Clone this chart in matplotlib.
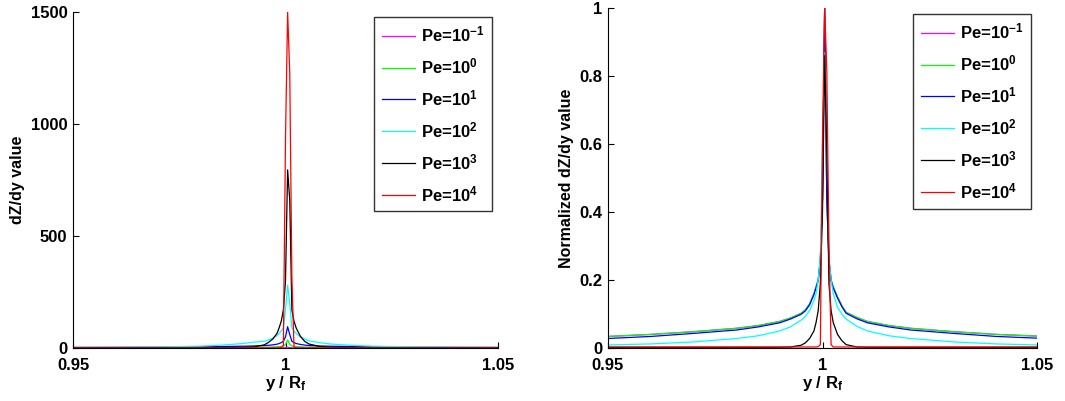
import matplotlib
matplotlib.use("Agg")
import matplotlib.pyplot as plt
from matplotlib.lines import Line2D

plt.rcParams['font.family'] = ['Liberation Sans', 'DejaVu Sans']
plt.rcParams['font.weight'] = 'bold'
plt.rcParams['mathtext.default'] = 'regular'

# Sample positions (y / R_f)
x_pts = [0.950, 0.960, 0.970, 0.980, 0.985, 0.990, 0.9925, 0.995, 0.996, 0.997,
         0.998, 0.9985, 0.999, 0.9995, 1.0000, 1.0005, 1.0010, 1.0015, 1.0020, 1.0025,
         1.0035, 1.0045, 1.0055, 1.0080, 1.0105, 1.0155, 1.0205, 1.0305, 1.0405, 1.0500]

labels = ['Pe=10$^{-1}$', 'Pe=10$^{0}$', 'Pe=10$^{1}$', 'Pe=10$^{2}$', 'Pe=10$^{3}$', 'Pe=10$^{4}$']
colors = ['#ff00ff', '#00ff00', '#0000ff', '#00ffff', '#000000', '#ff0000']

# Left panel: dZ/dy values
dz_pe_m1 = [0.13, 0.16, 0.19, 0.22, 0.27, 0.31, 0.36, 0.41, 0.45, 0.51, 0.63, 0.72, 0.80, 1.0, 1.8,
            4.0, 1.8, 1.0, 0.80, 0.72, 0.60, 0.50, 0.42, 0.36, 0.31, 0.27, 0.22, 0.19, 0.16, 0.13]
dz_pe_0 = [1.2, 1.4, 1.7, 2.0, 2.4, 2.8, 3.2, 3.7, 4.0, 4.6, 5.7, 6.5, 7.2, 9.4, 16,
           36, 16, 9.4, 7.2, 6.5, 5.4, 4.5, 3.8, 3.2, 2.8, 2.4, 2.0, 1.7, 1.4, 1.2]
dz_pe_1 = [2.8, 3.2, 4.0, 5.0, 6.5, 8.0, 9.0, 11, 12, 14, 17, 20, 24, 30, 50,
           95, 60, 30, 24, 20, 16, 13, 11, 9.0, 8.0, 6.5, 5.0, 4.0, 3.2, 2.8]
dz_pe_2 = [2.5, 3.5, 5.0, 8.0, 13, 20, 26, 30, 36, 44, 55, 65, 75, 90, 170,
           281, 200, 90, 75, 65, 50, 40, 32, 24, 18, 12, 8.0, 5.0, 3.5, 2.5]
dz_pe_3 = [1.5, 1.5, 1.5, 2.0, 2.5, 3.0, 5.0, 14, 25, 40, 65, 90, 120, 170, 300,
           795, 660, 170, 120, 90, 52, 30, 18, 7.0, 3.0, 2.5, 2.0, 1.5, 1.5, 1.5]
dz_pe_4 = [0.5, 0.5, 0.5, 0.5, 0.5, 0.5, 0.5, 0.5, 0.5, 0.5, 0.5, 0.5, 3.0, 10, 936,
           1500, 1227, 317, 5.0, 0.5, 0.5, 0.5, 0.5, 0.5, 0.5, 0.5, 0.5, 0.5, 0.5, 0.5]

# Right panel: normalized dZ/dy values
nz_pe_m1 = [0.034, 0.040, 0.048, 0.058, 0.066, 0.078, 0.088, 0.102, 0.112, 0.130, 0.160, 0.180, 0.200, 0.260, 0.440,
            1.0, 0.440, 0.260, 0.200, 0.180, 0.150, 0.125, 0.105, 0.090, 0.078, 0.066, 0.058, 0.048, 0.040, 0.035]
nz_pe_0 = [0.034, 0.040, 0.048, 0.058, 0.066, 0.078, 0.088, 0.102, 0.112, 0.130, 0.160, 0.180, 0.200, 0.260, 0.440,
           1.0, 0.440, 0.260, 0.200, 0.180, 0.150, 0.125, 0.105, 0.090, 0.078, 0.066, 0.058, 0.048, 0.040, 0.035]
nz_pe_1 = [0.028, 0.034, 0.043, 0.053, 0.062, 0.074, 0.085, 0.099, 0.109, 0.127, 0.157, 0.177, 0.198, 0.258, 0.440,
           1.0, 0.440, 0.258, 0.198, 0.177, 0.147, 0.122, 0.102, 0.086, 0.074, 0.062, 0.053, 0.043, 0.034, 0.029]
nz_pe_2 = [0.009, 0.012, 0.018, 0.028, 0.036, 0.050, 0.062, 0.082, 0.093, 0.110, 0.140, 0.160, 0.200, 0.270, 0.600,
           0.870, 0.600, 0.270, 0.200, 0.160, 0.120, 0.100, 0.085, 0.064, 0.050, 0.036, 0.028, 0.018, 0.012, 0.009]
nz_pe_3 = [0.002, 0.002, 0.002, 0.002, 0.002, 0.002, 0.003, 0.008, 0.015, 0.028, 0.050, 0.075, 0.110, 0.190, 0.400,
           0.860, 0.580, 0.190, 0.110, 0.075, 0.040, 0.022, 0.010, 0.003, 0.002, 0.002, 0.002, 0.002, 0.002, 0.002]
nz_pe_4 = [0.003, 0.003, 0.003, 0.003, 0.003, 0.003, 0.003, 0.003, 0.003, 0.003, 0.003, 0.003, 0.004, 0.010, 0.620,
           1.0, 0.820, 0.300, 0.010, 0.003, 0.003, 0.003, 0.003, 0.003, 0.003, 0.003, 0.003, 0.003, 0.003, 0.003]

left_series = [dz_pe_m1, dz_pe_0, dz_pe_1, dz_pe_2, dz_pe_3, dz_pe_4]
right_series = [nz_pe_m1, nz_pe_0, nz_pe_1, nz_pe_2, nz_pe_3, nz_pe_4]

fig = plt.figure(figsize=(10.65, 4.01), dpi=100)
ax1 = fig.add_axes([73 / 1065, 53 / 401, 425 / 1065, 336 / 401])
ax2 = fig.add_axes([608 / 1065, 53 / 401, 429 / 1065, 340 / 401])

FS = 12


def style(ax, yticks, yticklabels, ylim, ylabel):
    for s in ['top', 'right']:
        ax.spines[s].set_visible(False)
    ax.spines['left'].set_linewidth(0.8)
    ax.spines['bottom'].set_linewidth(0.8)
    ax.set_xlim(0.95, 1.05)
    ax.set_ylim(*ylim)
    ax.set_xticks([0.95, 1.0, 1.05])
    ax.set_xticklabels(['0.95', '1', '1.05'])
    ax.set_yticks(yticks)
    ax.set_yticklabels(yticklabels)
    ax.tick_params(direction='in', length=4, width=0.8, labelsize=FS)
    ax.tick_params(axis='x', pad=7)
    ax.tick_params(axis='y', pad=4)
    for t in ax.get_xticklabels() + ax.get_yticklabels():
        t.set_fontweight('bold')
    ax.set_xlabel('y / R$_f$', fontsize=12, fontweight='bold', labelpad=1)
    ax.set_ylabel(ylabel, fontsize=11.5, fontweight='bold', labelpad=4)


for ax, series in [(ax1, left_series), (ax2, right_series)]:
    for vals, c in zip(series, colors):
        ax.plot(x_pts, vals, color=c, lw=0.9)

style(ax1, [0, 500, 1000, 1500], ['0', '500', '1000', '1500'], (0, 1500), 'dZ/dy value')
style(ax2, [0, 0.2, 0.4, 0.6, 0.8, 1.0], ['0', '0.2', '0.4', '0.6', '0.8', '1'], (0, 1), 'Normalized dZ/dy value')

handles = [Line2D([], [], color=c, lw=0.9) for c in colors]
for ax, anchor in [(ax1, (0.986, 0.985)), (ax2, (0.986, 0.982))]:
    leg = ax.legend(handles, labels, loc='upper right', bbox_to_anchor=anchor, borderaxespad=0,
                    prop={'weight': 'bold', 'size': FS}, frameon=True, fancybox=False,
                    handlelength=2.0, handletextpad=0.35, labelspacing=0.72, borderpad=0.45)
    fr = leg.get_frame()
    fr.set_edgecolor('#333333')
    fr.set_linewidth(1.0)
    fr.set_alpha(1)

fig.savefig('out.png', dpi=100)
